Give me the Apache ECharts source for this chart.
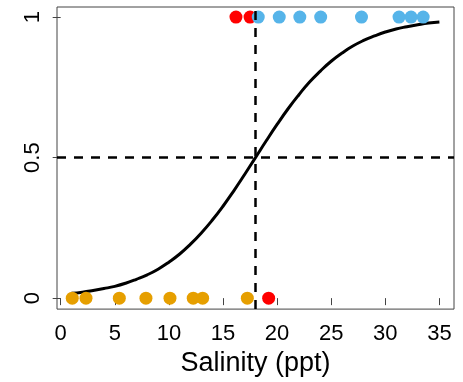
<!DOCTYPE html>
<html>
<head>
<meta charset="utf-8">
<script src="https://cdn.jsdelivr.net/npm/echarts@6/dist/echarts.min.js"></script>
<style>html,body{margin:0;padding:0;background:#fff}#c{width:463px;height:382px}</style>
</head>
<body>
<div id="c"></div>
<script>
// Observations at survival = 1 (top) and 0 (bottom)
const topRedX = [16.2, 17.5];
const topBlueX = [18.26, 20.2, 22.1, 24.03, 27.8, 31.27, 32.38, 33.5];
const bottomOrangeX = [1.07, 2.34, 5.42, 7.88, 10.1, 12.25, 13.12, 17.25];
const bottomRedX = [19.22];
// Fitted curve
const curveX = [1,2,3,4,5,6,7,8,9,10,11,12,13,14,15,16,17,18,19,20,21,22,23,24,25,26,27,28,29,30,31,32,33,34,35];
const curveY = [0.017,0.021,0.027,0.034,0.042,0.053,0.067,0.083,0.103,0.128,0.157,0.192,0.232,0.277,0.327,0.382,0.440,0.500,0.560,0.618,0.673,0.723,0.769,0.808,0.843,0.872,0.897,0.917,0.933,0.947,0.958,0.966,0.973,0.979,0.983];
const xTicks = [0,5,10,15,20,25,30,35];
const yTicks = [0,0.5,1];
const cutoffX = 18;
const cutoffY = 0.5;
const xTitle = 'Salinity (ppt)';

const FONT = '"Liberation Sans", Arial, sans-serif';
const chart = echarts.init(document.getElementById('c'), null, {renderer:'canvas'});
const pts = (xs, y) => xs.map(x => [x, y]);
const dotStyle = c => ({color: c, opacity: 1});
chart.setOption({
  animation: false,
  backgroundColor: '#fff',
  grid: {left: 57, right: 9, top: 7, bottom: 71, show: true, borderColor: '#444', borderWidth: 1, backgroundColor: 'transparent'},
  xAxis: {
    type: 'value', min: -0.34, max: 36.35,
    splitLine: {show: false},
    axisLine: {show: false},
    axisTick: {show: true, length: 7, lineStyle: {color: '#444', width: 1}, customValues: xTicks},
    axisLabel: {customValues: xTicks, fontSize: 22, color: '#000', fontFamily: FONT, margin: 14},
    name: xTitle, nameLocation: 'middle', nameGap: 37,
    nameTextStyle: {fontSize: 27, color: '#000', fontFamily: FONT}
  },
  yAxis: {
    type: 'value', min: -0.039, max: 1.036,
    splitLine: {show: false},
    axisLine: {show: false},
    axisTick: {show: true, length: 8, lineStyle: {color: '#444', width: 1}, customValues: yTicks},
    axisLabel: {customValues: yTicks, rotate: 90, fontSize: 22, color: '#000', fontFamily: FONT, margin: 13,
      formatter: v => String(v)}
  },
  series: [
    {
      type: 'line', data: curveX.map((x, i) => [x, curveY[i]]), smooth: true, showSymbol: false,
      lineStyle: {color: '#000', width: 3}, z: 2,
      markLine: {
        silent: true, symbol: ['none', 'none'], label: {show: false},
        lineStyle: {color: '#000', width: 2.5, type: [9, 8]},
        data: [{yAxis: cutoffY}, {xAxis: cutoffX}]
      }
    },
    {type: 'scatter', data: pts(topRedX, 1), symbolSize: 13, itemStyle: dotStyle('#FF0000'), z: 3},
    {type: 'scatter', data: pts(topBlueX, 1), symbolSize: 13, itemStyle: dotStyle('#56B4E9'), z: 4},
    {type: 'scatter', data: pts(bottomOrangeX, 0), symbolSize: 13, itemStyle: dotStyle('#E69F00'), z: 3},
    {type: 'scatter', data: pts(bottomRedX, 0), symbolSize: 13, itemStyle: dotStyle('#FF0000'), z: 3}
  ]
});
</script>
</body>
</html>
